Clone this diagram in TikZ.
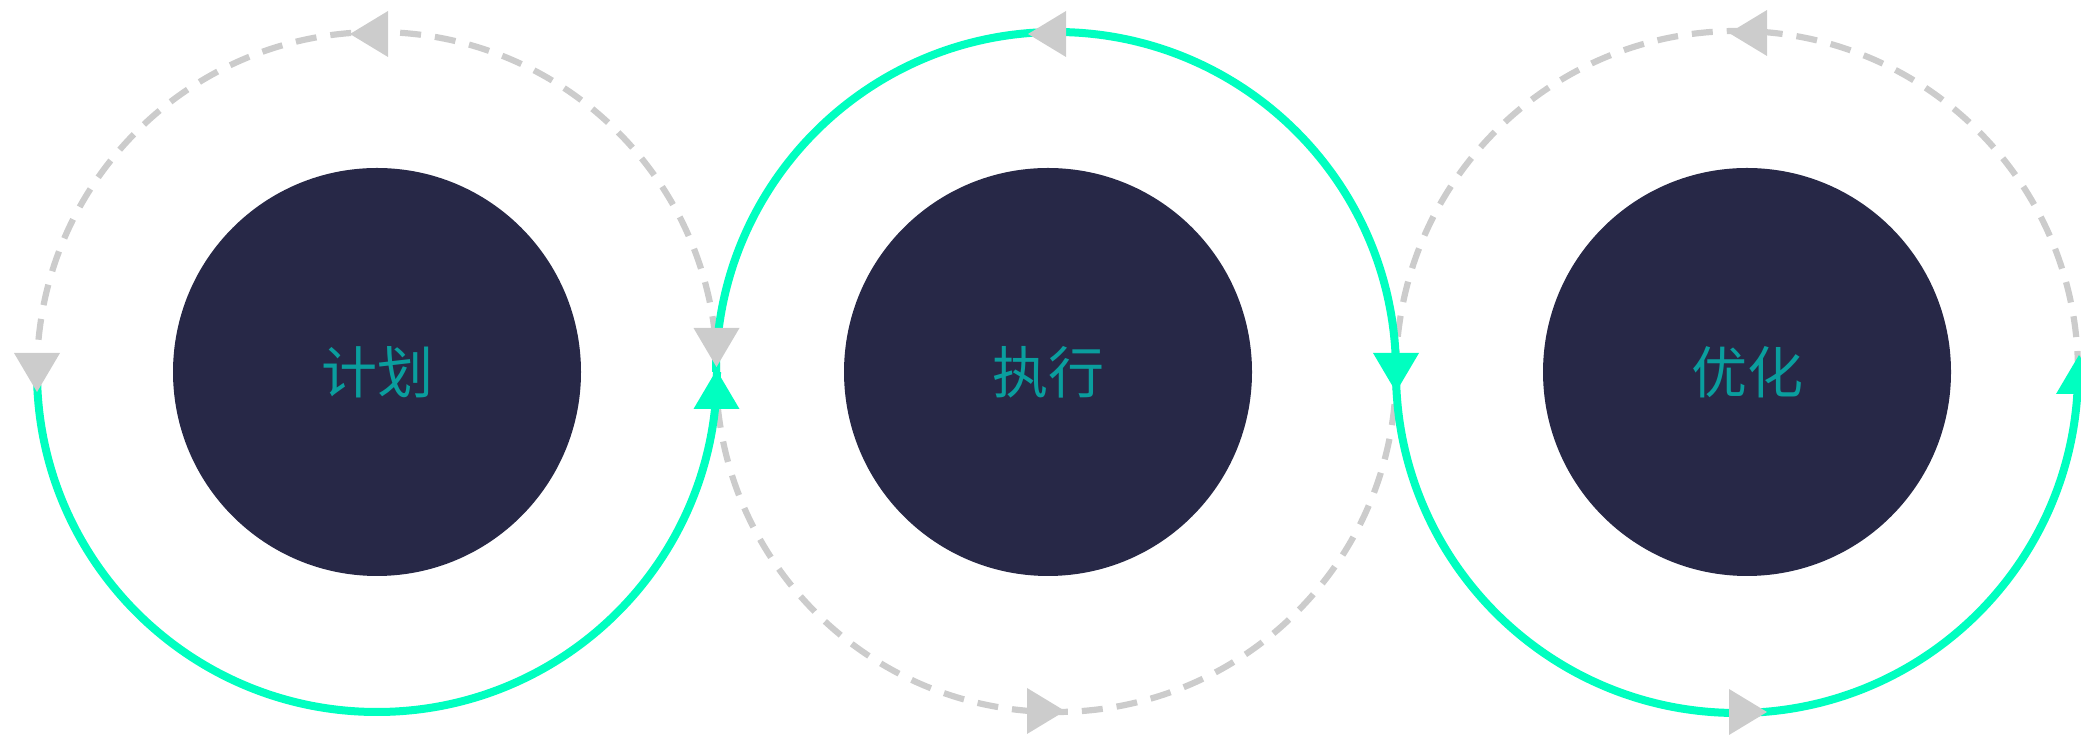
\documentclass[tikz,border=0pt]{standalone}
\usepackage{fontspec}
\newfontfamily\cjk{Noto Sans CJK SC}
\definecolor{ringgreen}{HTML}{00FFC0}
\definecolor{ringgray}{HTML}{CCCCCC}
\definecolor{discblue}{HTML}{272847}
\definecolor{labelteal}{HTML}{0A9E9E}

\begin{document}
\begin{tikzpicture}[x=0.5pt,y=0.5pt,
  disc/.style={circle,fill=discblue,minimum size=204pt,inner sep=0pt,
    text=labelteal,font=\cjk\fontsize{28pt}{28pt}\selectfont},
  solidring/.style={ringgreen,line width=4pt},
  dashring/.style={ringgray,line width=3.1pt,dash pattern=on 10.5pt off 7pt},
  greytip/.style={fill=ringgray},
  greentip/.style={fill=ringgreen}]
  \useasboundingbox (0,0) rectangle (2081,737);
  % discs
  \node[disc] (plan) at (377,365) {计划};
  \node[disc] (exec) at (1048,365) {执行};
  \node[disc] (opt) at (1747,365) {优化};
  % dashed halves
  \draw[dashring] (717,365) arc[start angle=0,end angle=180,radius=340];
  \draw[dashring] (716,365) arc[start angle=180,end angle=360,radius=340];
  \draw[dashring] (2078,365) arc[start angle=0,end angle=180,radius=341];
  % green halves
  \draw[solidring] (37,365) arc[start angle=180,end angle=360,radius=340];
  \draw[solidring] (716,365) arc[start angle=180,end angle=0,radius=340];
  \draw[solidring] (1396,365) arc[start angle=180,end angle=360,radius=341];
  % arrow heads
  \fill[greytip] (350,703) -- (388,726) -- (388,680) -- cycle;
  \fill[greytip] (37,345) -- (14,384) -- (60,384) -- cycle;
  \fill[greytip] (716.5,370) -- (693.5,409) -- (739.5,409) -- cycle;
  \fill[greentip] (716.5,367) -- (693.5,328) -- (739.5,328) -- cycle;
  \fill[greytip] (1028,703) -- (1066,726) -- (1066,680) -- cycle;
  \fill[greentip] (1396,345) -- (1373,384) -- (1419,384) -- cycle;
  \fill[greytip] (1065,26) -- (1027,49) -- (1027,3) -- cycle;
  \fill[greytip] (1729,704) -- (1767,727) -- (1767,681) -- cycle;
  \fill[greytip] (1767,25) -- (1729,48) -- (1729,2) -- cycle;
  \fill[greentip] (2079,382) -- (2056,343) -- (2102,343) -- cycle;
\end{tikzpicture}
\end{document}
